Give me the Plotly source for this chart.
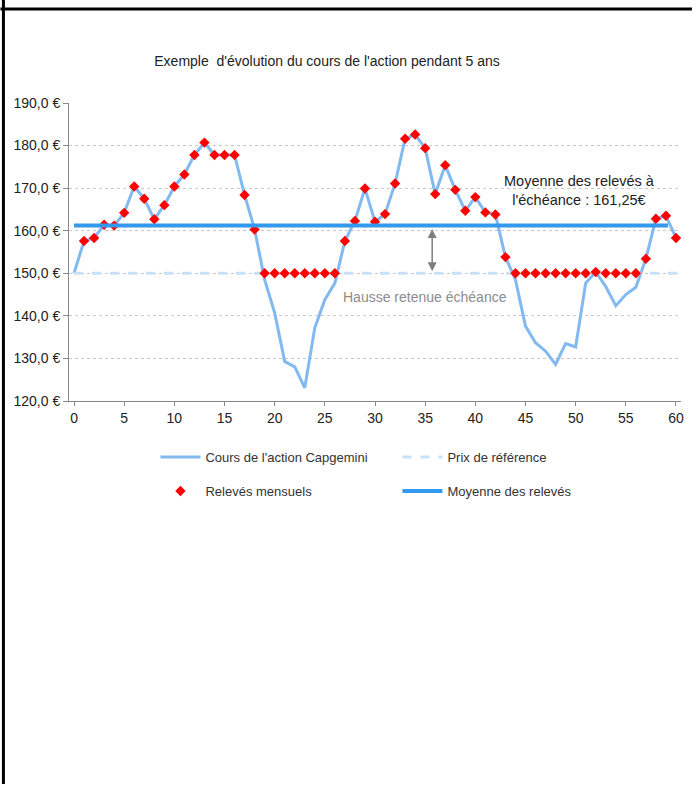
import plotly.graph_objects as go

# ---- data ----
months = list(range(0, 61))
price = [150.0, 157.6, 158.3, 161.4, 161.2, 164.2, 170.4, 167.5, 162.7, 166.0,
         170.4, 173.2, 177.8, 180.7, 177.8, 177.8, 177.8, 168.4, 160.3, 148.5,
         140.7, 129.3, 128.0, 123.1, 137.2, 143.8, 147.7, 157.6, 162.3, 169.9,
         162.1, 163.9, 171.1, 181.6, 182.6, 179.4, 168.6, 175.4, 169.6, 164.7,
         167.9, 164.3, 163.8, 153.8, 148.5, 137.6, 133.7, 131.7, 128.6, 133.5,
         132.7, 147.7, 150.3, 146.9, 142.4, 145.0, 146.7, 153.4, 162.8, 163.5,
         158.3]
reference_price = 150.0
average_value = 161.25
record_months = months[1:]
records = [max(p, reference_price) for p in price[1:]]
ref_x = [0, 60.5]
avg_x = [0, 59.2]
y_ticks = [120, 130, 140, 150, 160, 170, 180, 190]
y_tick_labels = ["120,0 €", "130,0 €", "140,0 €", "150,0 €",
                 "160,0 €", "170,0 €", "180,0 €", "190,0 €"]
x_ticks = [0, 5, 10, 15, 20, 25, 30, 35, 40, 45, 50, 55, 60]
arrow_month = 35.7

title_text = "Exemple  d'évolution du cours de l'action pendant 5 ans"
names = ["Cours de l'action Capgemini", "Prix de référence",
         "Relevés mensuels", "Moyenne des relevés"]

FONT = "Liberation Sans, Arial, sans-serif"

fig = go.Figure()
fig.add_trace(go.Scatter(x=months, y=price, mode="lines", name=names[0],
                         legend="legend",
                         line=dict(color="#82b9f0", width=3)))
fig.add_trace(go.Scatter(x=ref_x, y=[reference_price] * len(ref_x), mode="lines",
                         name=names[1], legend="legend",
                         line=dict(color="#c9e1f8", width=3, dash="dash")))
fig.add_trace(go.Scatter(x=record_months, y=records, mode="markers", name=names[2],
                         legend="legend2",
                         marker=dict(symbol="diamond", color="#ff0000", size=8)))
fig.add_trace(go.Scatter(x=avg_x, y=[average_value] * len(avg_x), mode="lines",
                         name=names[3], legend="legend2",
                         line=dict(color="#3399ee", width=4)))

# double arrow between reference and average
fig.add_annotation(x=arrow_month, y=reference_price, ax=arrow_month, ay=average_value,
                   xref="x", yref="y", axref="x", ayref="y", text="",
                   showarrow=True, arrowhead=2, startarrowhead=2, arrowside="end+start",
                   arrowsize=1.2, arrowwidth=1.5, arrowcolor="#7f7f7f",
                   standoff=2, startstandoff=2)
fig.add_annotation(x=35.0, y=144.4, xref="x", yref="y", showarrow=False,
                   text="Hausse retenue échéance",
                   font=dict(family=FONT, size=14, color="#8c8c8c"))
fig.add_annotation(x=50.4, y=169.4, xref="x", yref="y", showarrow=False,
                   text="Moyenne des relevés à<br>l'échéance : 161,25€",
                   font=dict(family=FONT, size=14.5, color="#222222"))

# frame lines
fig.add_shape(type="line", xref="paper", yref="paper",
              x0=-69 / 616, x1=(696 - 69) / 616,
              y0=(401 - 9) / 298, y1=(401 - 9) / 298,
              line=dict(color="black", width=3))
fig.add_shape(type="line", xref="paper", yref="paper",
              x0=-66 / 616, x1=-66 / 616,
              y0=401 / 298, y1=(401 - 784) / 298,
              line=dict(color="black", width=3))

legend_common = dict(orientation="h", xanchor="left", yanchor="middle",
                     entrywidth=187, entrywidthmode="pixels",
                     font=dict(family=FONT, size=13, color="#333333"),
                     itemwidth=40, bgcolor="rgba(0,0,0,0)")

fig.update_layout(
    width=696, height=785,
    margin=dict(l=69, r=12, t=103, b=384),
    paper_bgcolor="white", plot_bgcolor="white",
    font=dict(family=FONT, size=14, color="#222222"),
    title=dict(text=title_text, x=327 / 696, xanchor="center",
               y=1 - 61 / 785, yanchor="middle",
               font=dict(family=FONT, size=14, color="#222222")),
    showlegend=True,
    legend=dict(x=(156 - 69) / 616, y=(401 - 457) / 298, **legend_common),
    legend2=dict(x=(156 - 69) / 616, y=(401 - 491) / 298, **legend_common),
    xaxis=dict(range=[-0.5, 60.5], tickvals=x_ticks, ticks="outside", ticklen=4,
               tickcolor="#888888", showline=True, linecolor="#888888", linewidth=1,
               showgrid=False, zeroline=False,
               tickfont=dict(family=FONT, size=14, color="#222222")),
    yaxis=dict(range=[120, 190], tickvals=y_ticks, ticktext=y_tick_labels,
               ticks="outside", ticklen=5, tickcolor="#888888",
               showline=True, linecolor="#888888", linewidth=1,
               showgrid=True, gridcolor="#c8c8c8", griddash="dot", gridwidth=1,
               zeroline=False,
               tickfont=dict(family=FONT, size=14, color="#222222")),
)

fig.write_html("out.html", config={"displayModeBar": False},
               post_script="document.body.style.margin='0px';")
